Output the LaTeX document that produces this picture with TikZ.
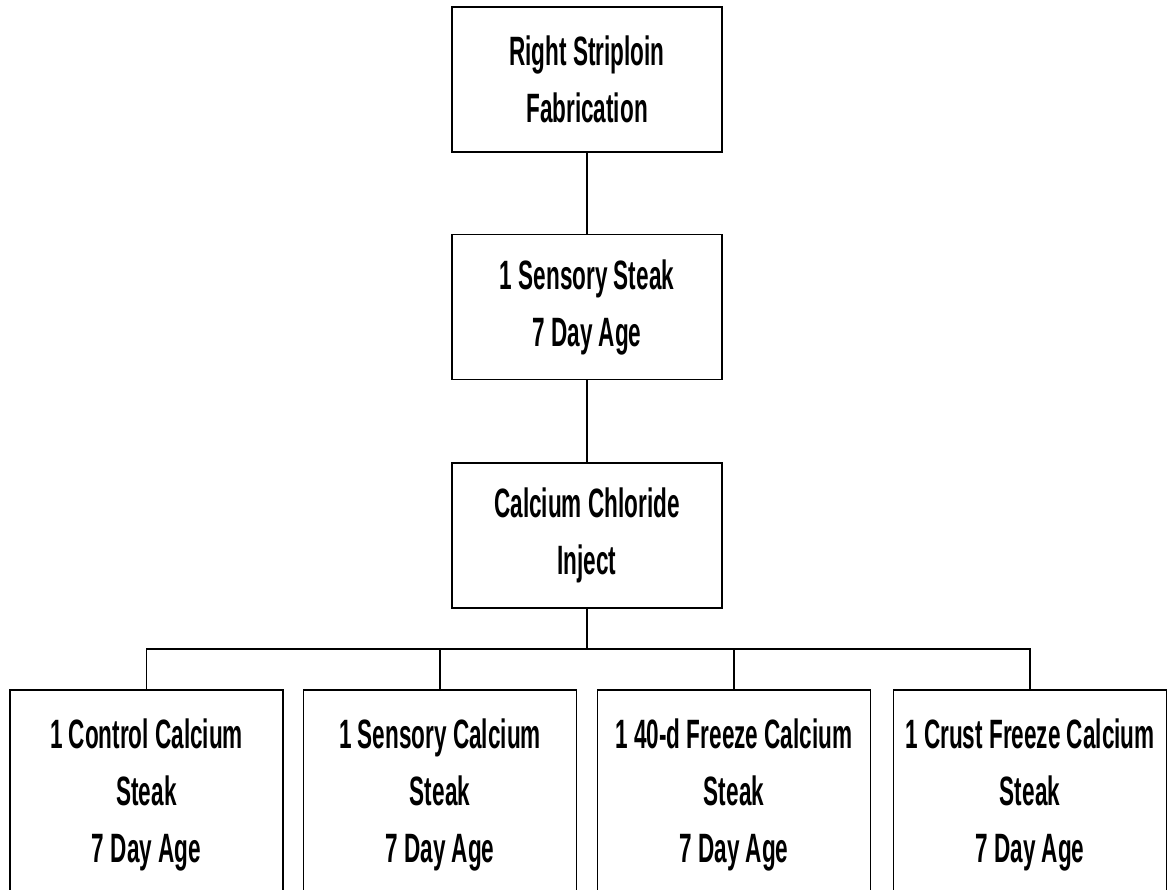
\documentclass[tikz,border=0pt]{standalone}
\usepackage{fontspec}
\newfontfamily\narr{Liberation Sans}[FakeStretch=0.55]
\begin{document}
\begin{tikzpicture}[x=1bp,y=-1bp,
  box/.style={draw=black, line width=1.7bp, rectangle, align=center,
    font=\narr\bfseries\fontsize{41bp}{57bp}\selectfont,
    minimum width=270bp, inner sep=0pt},
  midbox/.style={box, minimum height=145bp},
  leafbox/.style={box, minimum width=273bp, minimum height=210bp},
  link/.style={draw=black, line width=1.7bp}]
\useasboundingbox (0,0) rectangle (1169,890);
\node[midbox] (top) at (587,79.5) {Right Striploin\\Fabrication};
\node[midbox] (sens) at (587,307) {1 Sensory Steak\\7 Day Age};
\node[midbox] (cacl) at (587,535.5) {Calcium Chloride\\Inject};
\node[leafbox] (c1) at (146.5,795) {1 Control Calcium\\Steak\\7 Day Age};
\node[leafbox] (c2) at (440,795) {1 Sensory Calcium\\Steak\\7 Day Age};
\node[leafbox] (c3) at (734,795) {1 40-d Freeze Calcium\\Steak\\7 Day Age};
\node[leafbox] (c4) at (1030,795) {1 Crust Freeze Calcium\\Steak\\7 Day Age};
\coordinate (bus) at (587,649);
\path[link] (top.south) -- (sens.north);
\path[link] (sens.south) -- (cacl.north);
\path[link] (cacl.south) -- (bus);
\path[link] (c1.north) -- (c1.north |- bus) -- (c4.north |- bus) -- (c4.north);
\path[link] (c2.north) -- (c2.north |- bus);
\path[link] (c3.north) -- (c3.north |- bus);
\end{tikzpicture}
\end{document}
